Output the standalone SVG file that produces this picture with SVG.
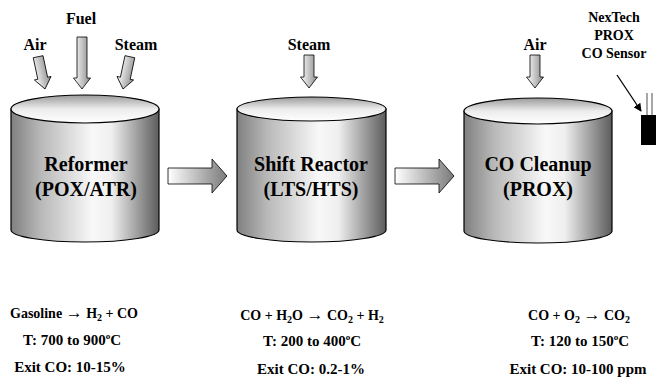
<svg xmlns="http://www.w3.org/2000/svg" width="656" height="382" viewBox="0 0 656 382">
  <defs>
    <linearGradient id="bodyGrad" x1="0" y1="0" x2="1" y2="0">
      <stop offset="0" stop-color="#808080"/>
      <stop offset="0.2" stop-color="#b8b8b8"/>
      <stop offset="0.55" stop-color="#f8f8f8"/>
      <stop offset="0.68" stop-color="#efefef"/>
      <stop offset="1" stop-color="#5c5c5c"/>
    </linearGradient>
    <linearGradient id="topGrad" x1="0" y1="0" x2="0" y2="1">
      <stop offset="0" stop-color="#9a9a9a"/>
      <stop offset="0.5" stop-color="#ececec"/>
      <stop offset="1" stop-color="#ffffff"/>
    </linearGradient>
    <linearGradient id="arrowGrad" x1="0" y1="0" x2="1" y2="0">
      <stop offset="0" stop-color="#ffffff"/>
      <stop offset="1" stop-color="#7a7a7a"/>
    </linearGradient>
    <linearGradient id="downGrad" x1="0" y1="0" x2="1" y2="0">
      <stop offset="0" stop-color="#ffffff"/>
      <stop offset="1" stop-color="#8a8a8a"/>
    </linearGradient>
    <!-- downward block arrow, tip at origin -->
    <path id="downShort" d="M-5,-33 H5 V-11 H8.5 L0,0 L-8.5,-11 H-5 Z"/>
    <path id="downLong" d="M-5,-52 H5 V-11 H8.5 L0,0 L-8.5,-11 H-5 Z"/>
    <marker id="blackHead" viewBox="0 0 10 10" refX="9" refY="5" markerWidth="8" markerHeight="8" orient="auto" markerUnits="userSpaceOnUse">
      <path d="M0,0 L10,5 L0,10 Z" fill="#000"/>
    </marker>
  </defs>
  <style>
    text { font-family: "Liberation Serif", "DejaVu Serif", serif; font-weight: bold; fill: #000; text-anchor: middle; }
    .inlet { font-size: 16px; }
    .vessel { font-size: 20px; }
    .sensor { font-size: 14px; }
    .info { font-size: 15px; }
    .eq { font-size: 14px; }
    .arr { font-size: 17px; }
    .body { fill: url(#bodyGrad); stroke: #000; stroke-width: 1.2; }
    .top { fill: url(#topGrad); stroke: #000; stroke-width: 1.2; }
    .flow { fill: url(#arrowGrad); stroke: #000; stroke-width: 0.8; }
    .feed { fill: url(#downGrad); stroke: #000; stroke-width: 0.8; }
  </style>

  <rect width="656" height="382" fill="#fff"/>

  <!-- Reformer vessel with its feeds -->
  <g id="reformer">
    <text class="inlet" x="81" y="24">Fuel</text>
    <text class="inlet" x="35" y="50">Air</text>
    <text class="inlet" x="136" y="50">Steam</text>
    <use href="#downShort" class="feed" transform="translate(45,89) rotate(-12)"/>
    <use href="#downLong" class="feed" transform="translate(82,89)"/>
    <use href="#downShort" class="feed" transform="translate(123,89) rotate(12)"/>
    <path class="body" d="M11,109 V230 A74,12 0 0 0 159,230 V109 Z"/>
    <ellipse class="top" cx="85" cy="109" rx="74" ry="14"/>
    <text class="vessel" x="86" y="171">Reformer</text>
    <text class="vessel" x="86" y="196">(POX/ATR)</text>
  </g>

  <!-- Shift reactor vessel -->
  <g id="shift">
    <text class="inlet" x="309" y="50">Steam</text>
    <use href="#downShort" class="feed" transform="translate(309,88)"/>
    <path class="body" d="M237,109 V230 A74.5,12 0 0 0 386,230 V109 Z"/>
    <ellipse class="top" cx="311.5" cy="109" rx="74.5" ry="12"/>
    <text class="vessel" x="311" y="171">Shift Reactor</text>
    <text class="vessel" x="311" y="196">(LTS/HTS)</text>
  </g>

  <!-- CO cleanup vessel -->
  <g id="cleanup">
    <text class="inlet" x="535" y="50">Air</text>
    <use href="#downShort" class="feed" transform="translate(535,88)"/>
    <path class="body" d="M464,111 V231 A74,12 0 0 0 612,231 V111 Z"/>
    <ellipse class="top" cx="538" cy="111" rx="74" ry="13"/>
    <text class="vessel" x="538" y="171">CO Cleanup</text>
    <text class="vessel" x="538" y="196">(PROX)</text>
  </g>

  <!-- CO sensor -->
  <g id="sensor">
    <text class="sensor" x="614" y="22">NexTech</text>
    <text class="sensor" x="614" y="40">PROX</text>
    <text class="sensor" x="614" y="58">CO Sensor</text>
    <line x1="647" y1="93" x2="647" y2="116" stroke="#888" stroke-width="1.5"/>
    <line x1="652" y1="93" x2="652" y2="116" stroke="#888" stroke-width="1.5"/>
    <rect x="641" y="115" width="18" height="30" fill="#000"/>
  </g>

  <!-- process flow connectors -->
  <g id="connectors">
    <path class="flow" d="M168,168 H212 V159 L227,176 L212,193 V184 H168 Z"/>
    <path class="flow" d="M395,168 H439 V159 L454,176 L439,193 V184 H395 Z"/>
    <line x1="617" y1="75" x2="641" y2="111" stroke="#000" stroke-width="1.3" marker-end="url(#blackHead)"/>
  </g>

  <!-- operating conditions -->
  <g id="conditions">
    <text class="eq" x="74" y="318">Gasoline <tspan class="arr">→</tspan> H<tspan font-size="10" dy="3">2</tspan><tspan dy="-3"> + CO</tspan></text>
    <text class="info" x="72" y="345">T:  700 to 900<tspan font-size="9" dy="-6">o</tspan><tspan dy="6">C</tspan></text>
    <text class="info" x="70" y="372">Exit CO:  10-15%</text>

    <text class="eq" x="312" y="320">CO + H<tspan font-size="10" dy="3">2</tspan><tspan dy="-3">O </tspan><tspan class="arr">→</tspan> CO<tspan font-size="10" dy="3">2</tspan><tspan dy="-3"> + H</tspan><tspan font-size="10" dy="3">2</tspan></text>
    <text class="info" x="312" y="346">T:  200 to 400<tspan font-size="9" dy="-6">o</tspan><tspan dy="6">C</tspan></text>
    <text class="info" x="311" y="374">Exit CO:  0.2-1%</text>

    <text class="eq" x="579" y="320">CO + O<tspan font-size="10" dy="3">2</tspan><tspan dy="-3"> </tspan><tspan class="arr">→</tspan> CO<tspan font-size="10" dy="3">2</tspan></text>
    <text class="info" x="580" y="346">T: 120 to 150<tspan font-size="9" dy="-6">o</tspan><tspan dy="6">C</tspan></text>
    <text class="info" x="578" y="374">Exit CO:  10-100 ppm</text>
  </g>
</svg>
